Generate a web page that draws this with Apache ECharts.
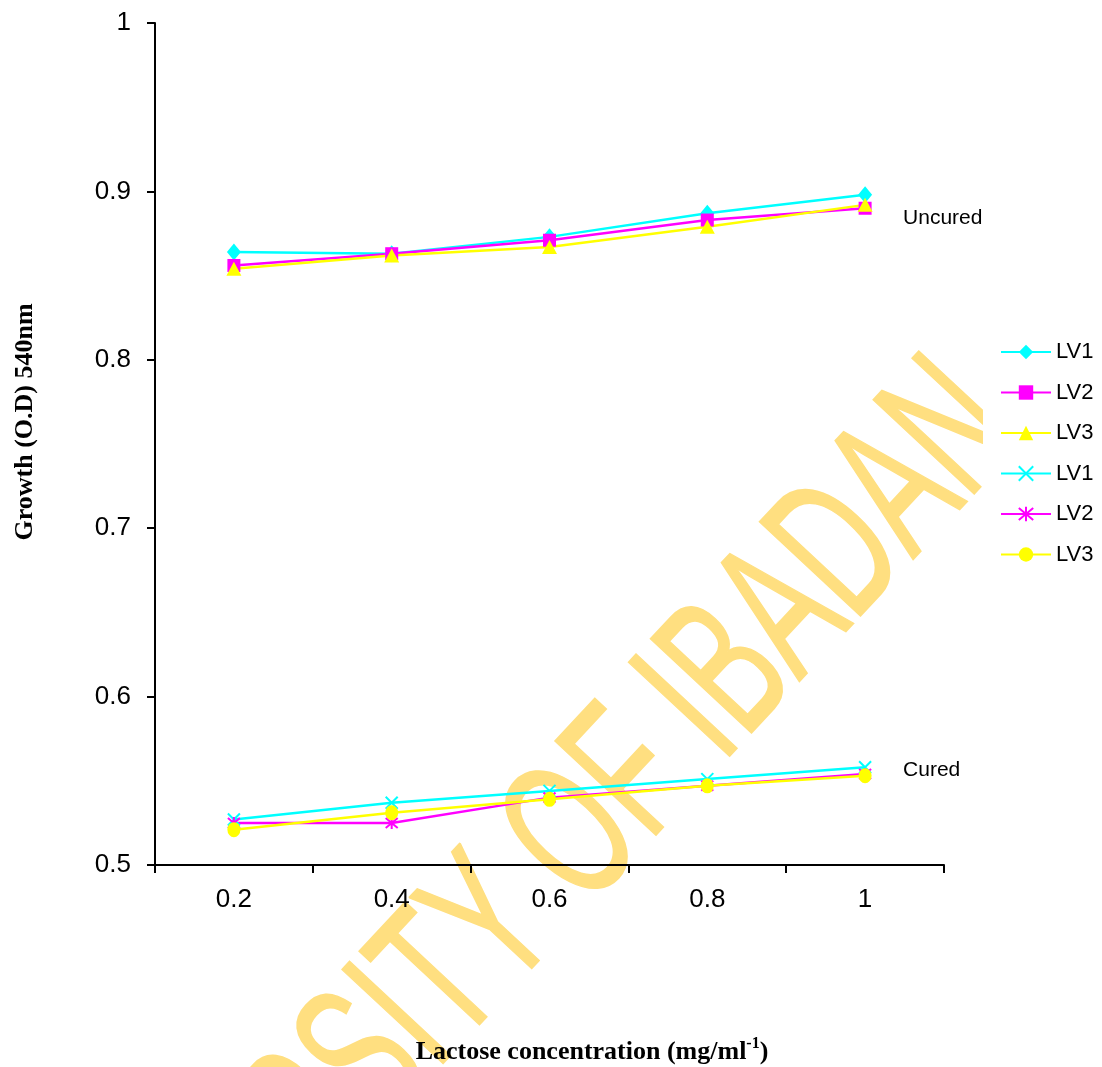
<!DOCTYPE html>
<html>
<head>
<meta charset="utf-8">
<script src="https://cdn.jsdelivr.net/npm/echarts@6/dist/echarts.min.js"></script>
<style>
  html, body { margin: 0; padding: 0; background: #fff; }
  #chart { width: 1102px; height: 1067px; }
</style>
</head>
<body>
<div id="chart"></div>
<script>
// Lactose concentration (mg/ml) on the category axis
const categories = ['0.2', '0.4', '0.6', '0.8', '1'];

// Growth (O.D at 540 nm) of uncured strains
const uncuredLV1 = [0.864, 0.863, 0.873, 0.887, 0.898];
const uncuredLV2 = [0.856, 0.863, 0.871, 0.883, 0.890];
const uncuredLV3 = [0.854, 0.862, 0.867, 0.879, 0.892];

// Growth (O.D at 540 nm) of cured strains
const curedLV1 = [0.527, 0.537, 0.544, 0.551, 0.558];
const curedLV2 = [0.525, 0.525, 0.540, 0.547, 0.554];
const curedLV3 = [0.521, 0.531, 0.539, 0.547, 0.553];

const CYAN = '#00FFFF', MAGENTA = '#FF00FF', YELLOW = '#FFFF00';
const SANS = '"Liberation Sans", Arial, sans-serif';
const SERIF = '"Liberation Serif", "Times New Roman", serif';

const CROSS = 'path://M0,0L10,10M10,0L0,10';
const ASTERISK = 'path://M0,0L10,10M10,0L0,10M5,-1L5,11';

function lineSeries(name, data, color, symbol, size, stroked, endText, endOffset) {
  const s = {
    name: name,
    type: 'line',
    data: data,
    symbol: symbol,
    symbolSize: size,
    showAllSymbol: true,
    lineStyle: { color: color, width: 2.5 },
    itemStyle: stroked
      ? { color: 'rgba(0,0,0,0)', borderColor: color, borderWidth: 2 }
      : { color: color, borderWidth: 0 },
    emphasis: { disabled: true },
    animation: false,
    z: 3
  };
  if (endText) {
    s.endLabel = {
      show: true,
      formatter: endText,
      color: '#000',
      fontFamily: SANS,
      fontSize: 21,
      distance: 5,
      offset: endOffset
    };
  }
  return s;
}

const chart = echarts.init(document.getElementById('chart'), null, { renderer: 'canvas' });

chart.setOption({
  backgroundColor: '#ffffff',
  animation: false,
  grid: { left: 155, right: 158, top: 23, bottom: 202, containLabel: false },
  xAxis: {
    type: 'category',
    data: categories,
    boundaryGap: true,
    axisLine: { show: true, onZero: false, lineStyle: { color: '#000', width: 2 } },
    axisTick: { show: true, inside: false, length: 8, lineStyle: { color: '#000', width: 2 } },
    axisLabel: { color: '#000', fontFamily: SANS, fontSize: 26, margin: 22 },
    splitLine: { show: false }
  },
  yAxis: {
    type: 'value',
    min: 0.5,
    max: 1,
    interval: 0.1,
    axisLine: { show: true, lineStyle: { color: '#000', width: 2 } },
    axisTick: { show: true, inside: false, length: 8, lineStyle: { color: '#000', width: 2 } },
    axisLabel: { color: '#000', fontFamily: SANS, fontSize: 26, margin: 24 },
    splitLine: { show: false }
  },
  legend: {
    orient: 'vertical',
    left: 995,
    top: 336,
    itemWidth: 50,
    itemHeight: 18,
    itemGap: 18.5,
    textStyle: { color: '#000', fontFamily: SANS, fontSize: 22 },
    formatter: function (name) { return name.split(' ')[0]; },
    data: ['LV1 uncured', 'LV2 uncured', 'LV3 uncured', 'LV1 cured', 'LV2 cured', 'LV3 cured']
  },
  graphic: [
    {
      type: 'text',
      z: -10,
      x: 986,
      y: 400,
      rotation: Math.PI * 47 / 180,
      scaleX: 0.6,
      scaleY: 1,
      silent: true,
      style: {
        text: 'UNIVERSITY OF IBADAN',
        font: 'normal 200px ' + SANS,
        fill: '#FFDF80',
        stroke: '#FFDF80',
        lineWidth: 2,
        lineJoin: 'round',
        textAlign: 'right',
        textVerticalAlign: 'middle'
      }
    },
    {
      type: 'rect',
      z: -5,
      silent: true,
      shape: { x: 983, y: 0, width: 119, height: 1067 },
      style: { fill: '#ffffff' }
    },
    {
      type: 'text',
      z: 10,
      x: 25,
      y: 422,
      rotation: Math.PI / 2,
      silent: true,
      style: {
        text: 'Growth (O.D) 540nm',
        font: 'bold 26px ' + SERIF,
        fill: '#000',
        textAlign: 'center',
        textVerticalAlign: 'middle'
      }
    },
    {
      type: 'text',
      z: 10,
      x: 592,
      y: 1052,
      silent: true,
      style: {
        text: '{a|Lactose concentration (mg/ml}{s|-1}{a|)}',
        textAlign: 'center',
        textVerticalAlign: 'middle',
        rich: {
          a: { fontFamily: SERIF, fontWeight: 'bold', fontSize: 26, color: '#000' },
          s: { fontFamily: SERIF, fontWeight: 'bold', fontSize: 16, color: '#000', padding: [0, 0, 16, 0] }
        }
      }
    }
  ],
  series: [
    lineSeries('LV1 uncured', uncuredLV1, CYAN, 'diamond', [14, 17], false, 'Uncured', [33, 23]),
    lineSeries('LV2 uncured', uncuredLV2, MAGENTA, 'rect', 13, false),
    lineSeries('LV3 uncured', uncuredLV3, YELLOW, 'triangle', [15, 14], false),
    lineSeries('LV1 cured', curedLV1, CYAN, CROSS, 12, true, 'Cured', [33, 3]),
    lineSeries('LV2 cured', curedLV2, MAGENTA, ASTERISK, 12, true),
    lineSeries('LV3 cured', curedLV3, YELLOW, 'circle', [13, 15], false)
  ]
});
</script>
</body>
</html>
